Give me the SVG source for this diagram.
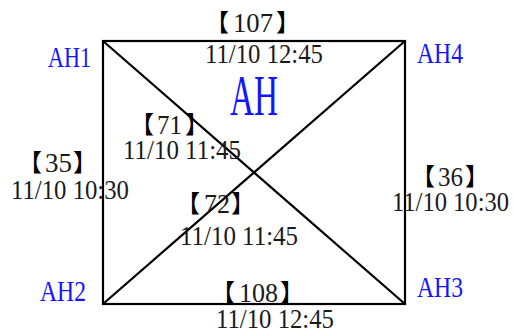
<svg xmlns="http://www.w3.org/2000/svg" width="513" height="329" viewBox="0 0 513 329">
<style>
.t{font-family:"Liberation Serif",serif;font-size:28px;fill:#1a1a1a}
.l{font-family:"Noto Sans CJK SC",sans-serif;font-size:24px;fill:#000;text-anchor:end}
.r{font-family:"Noto Sans CJK SC",sans-serif;font-size:24px;fill:#000;text-anchor:start}
.b{font-family:"Liberation Serif",serif;font-size:30px;fill:#1414ff}
.ln{stroke:#000;stroke-width:2.2;fill:none}
</style>
<rect width="513" height="329" fill="#fff"/>
<g id="connectors">
<rect class="ln" x="103" y="41" width="302" height="263"/>
<line class="ln" x1="103" y1="41" x2="405" y2="304"/>
<line class="ln" x1="405" y1="41" x2="103" y2="304"/>
</g>
<g id="AH1"><text class="b" x="48" y="67" textLength="43" lengthAdjust="spacingAndGlyphs">AH1</text></g>
<g id="AH4"><text class="b" x="417" y="63" textLength="46" lengthAdjust="spacingAndGlyphs">AH4</text></g>
<g id="AH2"><text class="b" x="40" y="301" textLength="46" lengthAdjust="spacingAndGlyphs">AH2</text></g>
<g id="AH3"><text class="b" x="417" y="297" textLength="46" lengthAdjust="spacingAndGlyphs">AH3</text></g>
<g id="AH"><text class="b" x="230" y="115" style="font-size:56px" textLength="48" lengthAdjust="spacingAndGlyphs">AH</text></g>
<g id="edge-107">
<text class="l" x="229" y="31">【</text>
<text class="t" x="233" y="32" textLength="40" lengthAdjust="spacingAndGlyphs">107</text>
<text class="r" x="276" y="31">】</text>
<text class="t" x="205" y="63" textLength="118" lengthAdjust="spacingAndGlyphs">11/10 12:45</text>
</g>
<g id="edge-71">
<text class="l" x="154" y="133">【</text>
<text class="t" x="157" y="134" textLength="25" lengthAdjust="spacingAndGlyphs">71</text>
<text class="r" x="185" y="133">】</text>
<text class="t" x="123" y="159" textLength="118" lengthAdjust="spacingAndGlyphs">11/10 11:45</text>
</g>
<g id="edge-35">
<text class="l" x="42" y="171">【</text>
<text class="t" x="45" y="172" textLength="27" lengthAdjust="spacingAndGlyphs">35</text>
<text class="r" x="73" y="171">】</text>
<text class="t" x="11" y="199" textLength="118" lengthAdjust="spacingAndGlyphs">11/10 10:30</text>
</g>
<g id="edge-72">
<text class="l" x="200" y="212">【</text>
<text class="t" x="204" y="213" textLength="26" lengthAdjust="spacingAndGlyphs">72</text>
<text class="r" x="231" y="212">】</text>
<text class="t" x="180" y="245" textLength="118" lengthAdjust="spacingAndGlyphs">11/10 11:45</text>
</g>
<g id="edge-36">
<text class="l" x="435" y="185">【</text>
<text class="t" x="438" y="186" textLength="25" lengthAdjust="spacingAndGlyphs">36</text>
<text class="r" x="465" y="185">】</text>
<text class="t" x="392" y="211" textLength="117" lengthAdjust="spacingAndGlyphs">11/10 10:30</text>
</g>
<g id="edge-108">
<text class="l" x="235" y="301">【</text>
<text class="t" x="239" y="302" textLength="39" lengthAdjust="spacingAndGlyphs">108</text>
<text class="r" x="280" y="301">】</text>
<text class="t" x="216" y="328" textLength="118" lengthAdjust="spacingAndGlyphs">11/10 12:45</text>
</g>
</svg>
